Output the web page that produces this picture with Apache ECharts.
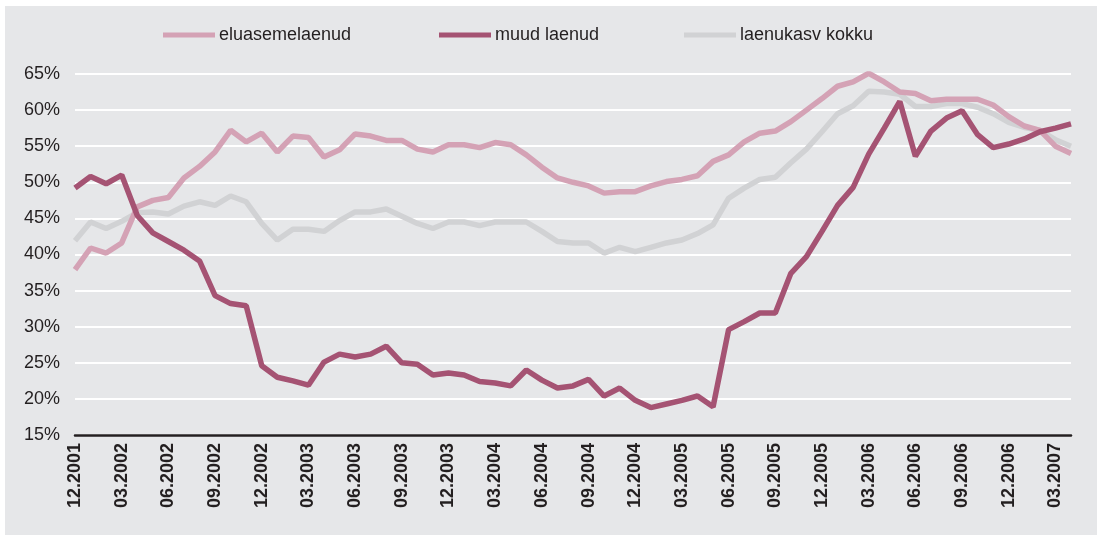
<!DOCTYPE html>
<html>
<head>
<meta charset="utf-8">
<script src="https://cdn.jsdelivr.net/npm/echarts@6/dist/echarts.min.js"></script>
<style>
html,body{margin:0;padding:0;background:#ffffff;width:1098px;height:535px;overflow:hidden;}
#bg{position:absolute;left:5px;top:6px;width:1092px;height:529px;background:#e6e7e9;}
#chart{position:absolute;left:0;top:0;width:1098px;height:535px;}
</style>
</head>
<body>
<div id="bg"></div>
<div id="chart"></div>
<script>
const categories = [
  "12.2001",
  "01.2002","02.2002","03.2002","04.2002","05.2002","06.2002","07.2002","08.2002","09.2002","10.2002","11.2002","12.2002",
  "01.2003","02.2003","03.2003","04.2003","05.2003","06.2003","07.2003","08.2003","09.2003","10.2003","11.2003","12.2003",
  "01.2004","02.2004","03.2004","04.2004","05.2004","06.2004","07.2004","08.2004","09.2004","10.2004","11.2004","12.2004",
  "01.2005","02.2005","03.2005","04.2005","05.2005","06.2005","07.2005","08.2005","09.2005","10.2005","11.2005","12.2005",
  "01.2006","02.2006","03.2006","04.2006","05.2006","06.2006","07.2006","08.2006","09.2006","10.2006","11.2006","12.2006",
  "01.2007","02.2007","03.2007","04.2007"
];
const eluasemelaenud = [37.9,40.9,40.2,41.6,46.6,47.5,47.9,50.6,52.2,54.2,
  57.2,55.6,56.8,54.2,56.4,56.2,53.5,54.5,56.7,56.4,
  55.8,55.8,54.6,54.2,55.2,55.2,54.8,55.5,55.2,53.8,
  52.1,50.6,50.0,49.5,48.5,48.7,48.7,49.5,50.1,50.4,
  50.9,52.9,53.8,55.6,56.8,57.1,58.4,60.0,61.6,63.3,
  63.9,65.1,63.9,62.5,62.3,61.3,61.5,61.5,61.5,60.7,
  59.1,57.8,57.2,55.0,54.0];
const muudLaenud = [49.2,50.8,49.8,51.0,45.4,43.0,41.8,40.6,39.1,34.3,
  33.2,32.9,24.6,23.0,22.5,21.9,25.1,26.2,25.8,26.2,
  27.3,25.0,24.8,23.3,23.6,23.3,22.4,22.2,21.8,24.0,
  22.6,21.5,21.8,22.7,20.4,21.5,19.8,18.8,19.3,19.8,
  20.4,18.9,29.6,30.7,31.9,31.9,37.4,39.7,43.2,46.8,
  49.3,53.9,57.5,61.2,53.6,57.1,58.9,59.9,56.6,54.8,
  55.3,56.0,57.0,57.5,58.1];
const laenukasvKokku = [41.9,44.5,43.6,44.6,45.8,45.9,45.6,46.7,47.3,46.8,
  48.1,47.3,44.3,42.0,43.5,43.5,43.2,44.7,45.9,45.9,
  46.3,45.3,44.3,43.6,44.5,44.5,44.0,44.5,44.5,44.5,
  43.2,41.8,41.6,41.6,40.2,41.0,40.4,41.0,41.6,42.0,
  42.9,44.1,47.8,49.2,50.4,50.7,52.7,54.6,57.0,59.5,
  60.6,62.6,62.5,62.2,60.5,60.5,60.9,60.9,60.4,59.5,
  58.3,57.6,57.2,55.9,55.0];
const seriesNames = ["eluasemelaenud","muud laenud","laenukasv kokku"];
const colors = ["#d4a2b5","#a55373","#d1d2d4"];

const chart = echarts.init(document.getElementById('chart'), null, {renderer:'canvas'});
const legendLeft = [158, 434, 679];
const legendStyle = (i) => ({
  data: [seriesNames[i]],
  left: legendLeft[i],
  top: 21,
  icon: 'rect',
  itemWidth: 52,
  itemHeight: 5,
  itemGap: 0,
  textStyle: {fontFamily: 'Liberation Sans, Arial, sans-serif', fontSize: 18, color: '#231f20', padding:[0,0,0,-1]},
  selectedMode: false
});
chart.setOption({
  backgroundColor: 'transparent',
  animation: false,
  legend: [legendStyle(0), legendStyle(1), legendStyle(2)],
  grid: {left: 75, right: 27, top: 74, bottom: 100, containLabel: false},
  xAxis: {
    type: 'category',
    data: categories,
    boundaryGap: false,
    axisLine: {show: true, onZero: false, lineStyle: {color: '#231f20', width: 2.5}},
    axisTick: {show: false},
    axisLabel: {
      interval: 2,
      rotate: 90,
      margin: 8,
      fontFamily: 'Liberation Sans, Arial, sans-serif',
      fontWeight: 'bold',
      fontSize: 18,
      color: '#231f20'
    },
    splitLine: {show: false}
  },
  yAxis: {
    type: 'value',
    min: 15,
    max: 65,
    interval: 5,
    axisLine: {show: false},
    axisTick: {show: false},
    axisLabel: {
      formatter: '{value}%',
      margin: 15,
      fontFamily: 'Liberation Sans, Arial, sans-serif',
      fontSize: 18,
      color: '#231f20'
    },
    splitLine: {show: true, lineStyle: {color: '#ffffff', width: 2}}
  },
  series: [
    {name: seriesNames[2], type: 'line', data: laenukasvKokku, symbol: 'none', z: 2,
     lineStyle: {color: colors[2], width: 5.5}, itemStyle: {color: colors[2]}},
    {name: seriesNames[0], type: 'line', data: eluasemelaenud, symbol: 'none', z: 3,
     lineStyle: {color: colors[0], width: 5.5}, itemStyle: {color: colors[0]}},
    {name: seriesNames[1], type: 'line', data: muudLaenud, symbol: 'none', z: 4,
     lineStyle: {color: colors[1], width: 5.5}, itemStyle: {color: colors[1]}}
  ]
});
</script>
</body>
</html>
